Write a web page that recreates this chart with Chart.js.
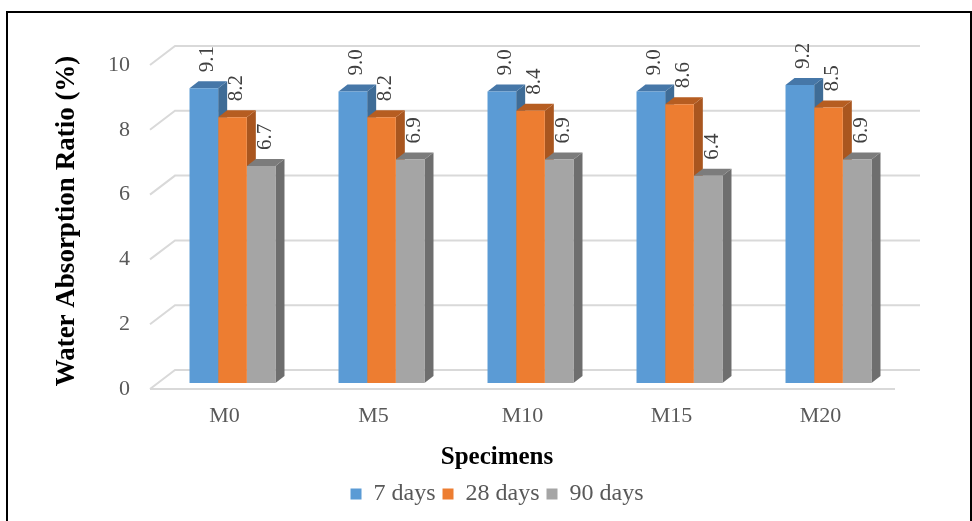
<!DOCTYPE html>
<html>
<head>
<meta charset="utf-8">
<script src="https://cdn.jsdelivr.net/npm/chart.js@4.4.0/dist/chart.umd.min.js"></script>
<style>
  html, body { margin: 0; padding: 0; background: #fff; }
  #wrap { position: relative; width: 972px; height: 521px; overflow: hidden; }
  #frame { position: absolute; left: 6px; top: 11px; width: 962px; height: 560px; border: 2px solid #000; pointer-events: none; }
</style>
</head>
<body>
<div id="wrap">
  <canvas id="chart" width="972" height="521"></canvas>
  <div id="frame"></div>
</div>
<script>
const specimens = ['M0', 'M5', 'M10', 'M15', 'M20'];
const days7 = [9.1, 9.0, 9.0, 9.0, 9.2];
const days28 = [8.2, 8.2, 8.4, 8.6, 8.5];
const days90 = [6.7, 6.9, 6.9, 6.4, 6.9];
const seriesNames = ['7 days', '28 days', '90 days'];

const frontColors = ['#5B9BD5', '#ED7D31', '#A5A5A5'];
const sideColors = ['#3F6C96', '#A9561F', '#6E6E6E'];
const topColors = ['#4677A8', '#B65D21', '#7C7C7C'];

const serif = "'Liberation Serif', 'Times New Roman', serif";

// bar depth, and offsets from a bar's front face to the back wall and the front edge
const DEPTH_X = 9, DEPTH_Y = 7;
const WALL_X = 17, WALL_Y = 13;
const EDGE_X = 8, EDGE_Y = 6;

const depthPlugin = {
    id: 'depth',
    beforeDatasetsDraw(chart) {
        const { ctx, chartArea, scales: { y } } = chart;
        ctx.save();

        // back wall gridlines with the left wall diagonals
        ctx.strokeStyle = '#D9D9D9';
        ctx.lineWidth = 2;
        y.ticks.forEach(t => {
            const py = y.getPixelForValue(t.value);
            ctx.beginPath();
            ctx.moveTo(chartArea.left - EDGE_X, py + EDGE_Y);
            ctx.lineTo(chartArea.left + WALL_X, py - WALL_Y);
            ctx.lineTo(chartArea.right + WALL_X, py - WALL_Y);
            ctx.stroke();
        });
        // front edge of the floor
        const p0 = y.getPixelForValue(0);
        ctx.beginPath();
        ctx.moveTo(chartArea.left - EDGE_X, p0 + EDGE_Y);
        ctx.lineTo(chartArea.right - EDGE_X, p0 + EDGE_Y);
        ctx.stroke();

        // side and top faces, fronts are drawn afterwards by chart.js
        chart.data.datasets.forEach((ds, i) => {
            const meta = chart.getDatasetMeta(i);
            meta.data.forEach(bar => {
                const l = bar.x - bar.width / 2;
                const r = bar.x + bar.width / 2;
                const t = bar.y;
                const b = bar.base;

                ctx.fillStyle = sideColors[i];
                ctx.beginPath();
                ctx.moveTo(r, t);
                ctx.lineTo(r + DEPTH_X, t - DEPTH_Y);
                ctx.lineTo(r + DEPTH_X, b - DEPTH_Y);
                ctx.lineTo(r, b);
                ctx.closePath();
                ctx.fill();

                ctx.fillStyle = topColors[i];
                ctx.beginPath();
                ctx.moveTo(l, t);
                ctx.lineTo(l + DEPTH_X, t - DEPTH_Y);
                ctx.lineTo(r + DEPTH_X, t - DEPTH_Y);
                ctx.lineTo(r, t);
                ctx.closePath();
                ctx.fill();
            });
        });
        ctx.restore();
    },
    afterDatasetsDraw(chart) {
        // value labels, written upwards above each bar
        const { ctx } = chart;
        ctx.save();
        ctx.fillStyle = '#404040';
        ctx.font = `21px ${serif}`;
        ctx.textAlign = 'left';
        ctx.textBaseline = 'middle';
        chart.data.datasets.forEach((ds, i) => {
            chart.getDatasetMeta(i).data.forEach((bar, j) => {
                ctx.save();
                ctx.translate(bar.x + 4, bar.y - 16);
                ctx.rotate(-Math.PI / 2);
                ctx.fillText(ds.data[j].toFixed(1), 0, 0);
                ctx.restore();
            });
        });
        ctx.restore();
    }
};

new Chart(document.getElementById('chart'), {
    type: 'bar',
    data: {
        labels: specimens,
        datasets: [days7, days28, days90].map((values, i) => ({
            label: seriesNames[i],
            data: values,
            backgroundColor: frontColors[i],
            borderWidth: 0,
            categoryPercentage: 0.577,
            barPercentage: 1
        }))
    },
    options: {
        responsive: false,
        animation: false,
        events: [],
        layout: { padding: { left: 91, right: 69, top: 59, bottom: 5 } },
        scales: {
            x: {
                grid: { display: false, drawTicks: false },
                border: { display: false },
                ticks: {
                    color: '#595959',
                    font: { family: serif, size: 22 },
                    padding: 20,
                    labelOffset: -EDGE_X
                },
                afterFit(scale) { scale.height = 60; }
            },
            y: {
                min: 0,
                max: 10,
                grid: { display: false, drawTicks: false },
                border: { display: false },
                ticks: {
                    stepSize: 2,
                    color: '#595959',
                    font: { family: serif, size: 22 },
                    padding: 28,
                    labelOffset: EDGE_Y
                },
                title: {
                    display: true,
                    text: 'Water Absorption Ratio (%)',
                    color: '#000',
                    font: { family: serif, size: 27, weight: 'bold' },
                    padding: { top: -40, bottom: 0 }
                },
                afterFit(scale) { scale.width = 67; }
            }
        },
        plugins: {
            title: {
                display: true,
                text: 'Specimens',
                position: 'bottom',
                weight: 500,
                color: '#000',
                font: { family: serif, size: 25, weight: 'bold' },
                padding: { top: 0, bottom: 2 }
            },
            legend: {
                position: 'bottom',
                labels: {
                    boxWidth: 11,
                    boxHeight: 11,
                    padding: 7,
                    color: '#595959',
                    font: { family: serif, size: 24 }
                }
            },
            tooltip: { enabled: false }
        }
    },
    plugins: [depthPlugin]
});
</script>
</body>
</html>
